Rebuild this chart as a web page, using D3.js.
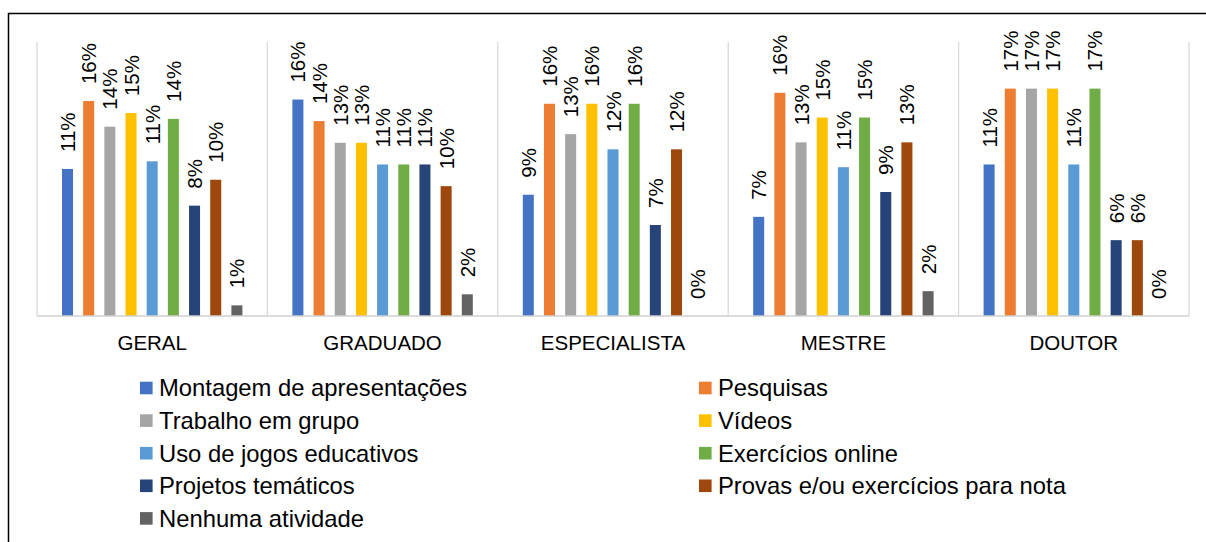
<!DOCTYPE html>
<html>
<head>
<meta charset="utf-8">
<script src="https://cdn.jsdelivr.net/npm/d3@7"></script>
<style>
  html, body { margin: 0; padding: 0; background: #fff; }
  svg { display: block; font-family: "Liberation Sans", Arial, sans-serif; }
</style>
</head>
<body>
<svg id="chart" width="1206" height="542"></svg>
<script>
// Grupos de formação
const categories = ["GERAL", "GRADUADO", "ESPECIALISTA", "MESTRE", "DOUTOR"];

// Atividades (séries)
const seriesNames = [
  "Montagem de apresentações",
  "Pesquisas",
  "Trabalho em grupo",
  "Vídeos",
  "Uso de jogos educativos",
  "Exercícios online",
  "Projetos temáticos",
  "Provas e/ou exercícios para nota",
  "Nenhuma atividade"
];

const seriesColors = ["#4472C4", "#ED7D31", "#A5A5A5", "#FFC000", "#5B9BD5",
                      "#70AD47", "#264478", "#9E480E", "#636363"];

// Percentuais por atividade, na ordem das categorias
const montagem   = [10.78, 15.87,  8.89,  7.27, 11.11];
const pesquisas  = [15.76, 14.29, 15.56, 16.36, 16.67];
const trabalho   = [13.88, 12.70, 13.33, 12.73, 16.67];
const videos     = [14.88, 12.70, 15.56, 14.55, 16.67];
const jogos      = [11.34, 11.11, 12.22, 10.91, 11.11];
const exercicios = [14.45, 11.11, 15.56, 14.55, 16.67];
const projetos   = [ 8.09, 11.11,  6.67,  9.09,  5.56];
const provas     = [ 9.99,  9.52, 12.22, 12.73,  5.56];
const nenhuma    = [ 0.78,  1.59,  0.00,  1.82,  0.00];

const seriesValues = [montagem, pesquisas, trabalho, videos, jogos,
                      exercicios, projetos, provas, nenhuma];

const yMax = 20;

const svg = d3.select("#chart");

// Moldura
svg.append("rect")
  .attr("x", 8.5).attr("y", 13.5)
  .attr("width", 1220).attr("height", 560)
  .attr("fill", "none").attr("stroke", "#000").attr("stroke-width", 1.5);

const plot = { left: 37, right: 1189, top: 42, bottom: 316 };

const x0 = d3.scaleBand()
  .domain(categories)
  .range([plot.left, plot.right])
  .padding(0);

const x1 = d3.scaleBand()
  .domain(d3.range(seriesNames.length))
  .range([0, x0.bandwidth()])
  .paddingInner(0.48)
  .paddingOuter(1.18);

const y = d3.scaleLinear()
  .domain([0, yMax])
  .range([plot.bottom, plot.bottom - 13.64 * yMax]);

// Linhas verticais de separação
svg.append("g")
  .selectAll("line")
  .data(categories.map(c => x0(c)).concat([plot.right]))
  .join("line")
  .attr("x1", d => d).attr("x2", d => d)
  .attr("y1", plot.top).attr("y2", plot.bottom)
  .attr("stroke", "#d9d9d9").attr("stroke-width", 1.3);

// Barras e rótulos
const groups = svg.append("g")
  .selectAll("g")
  .data(categories)
  .join("g")
  .attr("transform", c => `translate(${x0(c)},0)`);

const cells = (c, ci) => seriesValues.map((vals, si) => ({ si, v: vals[ci] }));

groups.each(function (c, ci) {
  const g = d3.select(this);
  const data = cells(c, ci);

  g.selectAll("rect")
    .data(data)
    .join("rect")
    .attr("x", d => x1(d.si))
    .attr("width", x1.bandwidth())
    .attr("y", d => y(d.v))
    .attr("height", d => y(0) - y(d.v))
    .attr("fill", d => seriesColors[d.si]);

  g.selectAll("text")
    .data(data)
    .join("text")
    .attr("transform", d => {
      const cx = x1(d.si) + x1.bandwidth() / 2 + 7.5;
      const ty = y(d.v) - 17;
      return `translate(${cx},${ty}) rotate(-90)`;
    })
    .attr("text-anchor", "start")
    .attr("font-size", 20.5)
    .attr("fill", "#000")
    .text(d => Math.round(d.v) + "%");
});

// Linha de base
svg.append("line")
  .attr("x1", plot.left).attr("x2", plot.right)
  .attr("y1", plot.bottom).attr("y2", plot.bottom)
  .attr("stroke", "#d0d0d0").attr("stroke-width", 1.5);

// Rótulos das categorias
svg.append("g")
  .selectAll("text")
  .data(categories)
  .join("text")
  .attr("x", c => x0(c) + x0.bandwidth() / 2)
  .attr("y", 350)
  .attr("text-anchor", "middle")
  .attr("font-size", 20.5)
  .attr("fill", "#000")
  .text(c => c);

// Legenda em duas colunas
const legendCols = [140, 699];
const legendTop = 388;
const legendStep = 32.6;

const legend = svg.append("g")
  .selectAll("g")
  .data(seriesNames.map((name, i) => ({ name, i })))
  .join("g")
  .attr("transform", d => {
    const col = d.i % 2;
    const row = Math.floor(d.i / 2);
    return `translate(${legendCols[col]},${legendTop + row * legendStep})`;
  });

legend.append("rect")
  .attr("x", 0).attr("y", -6.3)
  .attr("width", 12.6).attr("height", 12.6)
  .attr("fill", d => seriesColors[d.i]);

legend.append("text")
  .attr("x", 19)
  .attr("y", 8.3)
  .attr("font-size", 23.8)
  .attr("fill", "#000")
  .text(d => d.name);
</script>
</body>
</html>
